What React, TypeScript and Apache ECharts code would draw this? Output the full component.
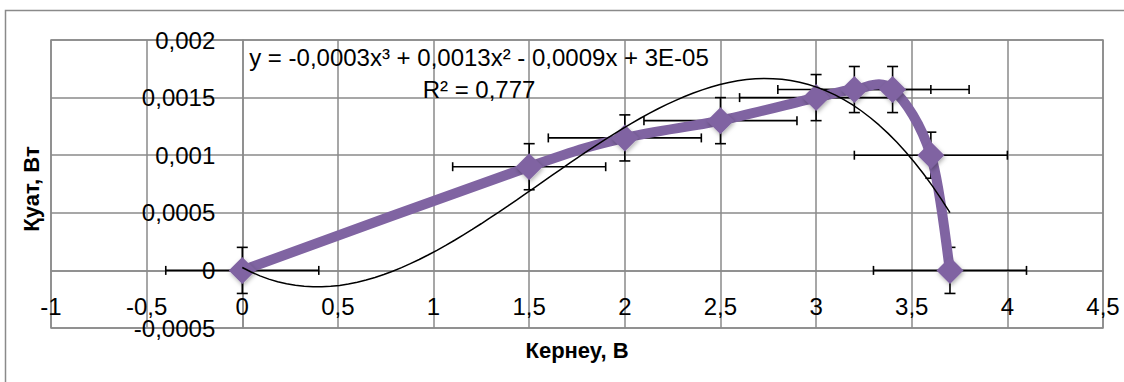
import React, { useEffect, useRef } from "react";
import * as echarts from "echarts";

// Data
const voltage = [0, 1.5, 2, 2.5, 3, 3.2, 3.4, 3.6, 3.7];
const power = [0, 0.0009, 0.00115, 0.0013, 0.0015, 0.00157, 0.00157, 0.001, 0];
const voltageError = [0.4, 0.4, 0.4, 0.4, 0.4, 0.4, 0.4, 0.4, 0.4];
const powerError = [0.0002, 0.0002, 0.0002, 0.0002, 0.0002, 0.0002, 0.0002, 0.0002, 0.0002];

const xRange = [-1, 4.5];
const xStep = 0.5;
const yRange = [-0.0005, 0.002];
const yStep = 0.0005;

const xAxisTitle = "Кернеу, В";
const yAxisTitle = "Қуат, Вт";
const equationText = "y = -0,0003x³ + 0,0013x² - 0,0009x + 3E-05";
const r2Text = "R² = 0,777";

const FONT = "'Liberation Sans', Arial, sans-serif";
const PURPLE = "#8064A2";
const GRID = "#8a8a8a";

const GRID_LEFT = 51;
const GRID_TOP = 40;
const GRID_W = 1052;
const GRID_H = 288;

// Least-squares polynomial fit (as the spreadsheet trendline does)
function polyfit(xs: number[], ys: number[], deg: number): number[] {
  const n = deg + 1;
  const A: number[][] = [];
  for (let j = 0; j < n; j++) {
    const row: number[] = [];
    for (let k = 0; k < n; k++) {
      let s = 0;
      for (let i = 0; i < xs.length; i++) s += Math.pow(xs[i], j + k);
      row.push(s);
    }
    let b = 0;
    for (let i = 0; i < xs.length; i++) b += ys[i] * Math.pow(xs[i], j);
    row.push(b);
    A.push(row);
  }
  for (let c = 0; c < n; c++) {
    let p = c;
    for (let r = c + 1; r < n; r++) if (Math.abs(A[r][c]) > Math.abs(A[p][c])) p = r;
    [A[c], A[p]] = [A[p], A[c]];
    for (let r = 0; r < n; r++) {
      if (r === c) continue;
      const f = A[r][c] / A[c][c];
      for (let k = c; k <= n; k++) A[r][k] -= f * A[c][k];
    }
  }
  return A.map((row, i) => row[n] / row[i]);
}

function fmt(v: number): string {
  return parseFloat(v.toPrecision(10)).toString().replace(".", ",");
}

export default function App() {
  const ref = useRef<HTMLDivElement>(null);
  useEffect(() => {
    if (!ref.current) return;
    const chart = echarts.init(ref.current, null, { renderer: "svg" });
    const coef = polyfit(voltage, power, 3);
    const xmin = Math.min(...voltage);
    const xmax = Math.max(...voltage);
    const steps = 80;
    const trend: number[][] = [];
    for (let i = 0; i <= steps; i++) {
      const x = xmin + ((xmax - xmin) * i) / steps;
      let y = 0;
      for (let k = 0; k < coef.length; k++) y += coef[k] * Math.pow(x, k);
      trend.push([x, y]);
    }
    const points = voltage.map((x, i) => [x, power[i]]);
    const errData = voltage.map((x, i) => [x, power[i], voltageError[i], powerError[i]]);
    const n = points.length;

    // axes cross at zero, with their labels beside them
    const yAxisOffset = -GRID_W * (0 - xRange[0]) / (xRange[1] - xRange[0]);
    const xAxisOffset = -GRID_H * (0 - yRange[0]) / (yRange[1] - yRange[0]);

    const gridLine = { color: GRID, width: 1.5 };

    chart.setOption({
      animation: false,
      backgroundColor: "#ffffff",
      grid: {
        left: GRID_LEFT,
        top: GRID_TOP,
        width: GRID_W,
        height: GRID_H,
        show: true,
        borderColor: GRID,
        borderWidth: 1.5,
        containLabel: false,
        outerBoundsMode: "none",
      },
      xAxis: {
        type: "value",
        min: xRange[0],
        max: xRange[1],
        interval: xStep,
        position: "bottom",
        offset: xAxisOffset,
        axisLine: { show: true, onZero: false, lineStyle: gridLine },
        axisTick: { show: false },
        splitLine: { show: true, lineStyle: gridLine },
        axisLabel: {
          margin: 24,
          fontSize: 24,
          fontFamily: FONT,
          color: "#000",
          formatter: fmt,
          showMinLabel: true,
          showMaxLabel: true,
        },
      },
      yAxis: {
        type: "value",
        min: yRange[0],
        max: yRange[1],
        interval: yStep,
        position: "left",
        offset: yAxisOffset,
        axisLine: { show: true, onZero: false, lineStyle: gridLine },
        axisTick: { show: false },
        splitLine: { show: true, lineStyle: gridLine },
        axisLabel: {
          margin: 27,
          fontSize: 24,
          fontFamily: FONT,
          color: "#000",
          formatter: fmt,
          showMinLabel: true,
          showMaxLabel: true,
        },
      },
      graphic: [
        {
          type: "rect",
          shape: { x: 5.5, y: 10.5, width: 1130, height: 400 },
          style: { fill: "none", stroke: GRID, lineWidth: 1.5 },
          silent: true,
        },
        {
          type: "text",
          x: 479,
          y: 57,
          style: {
            text: equationText,
            fontSize: 24,
            fontFamily: FONT,
            fill: "#000",
            textAlign: "center",
            textVerticalAlign: "middle",
          },
          z: 10,
        },
        {
          type: "text",
          x: 479,
          y: 89,
          style: {
            text: r2Text,
            fontSize: 24,
            fontFamily: FONT,
            fill: "#000",
            textAlign: "center",
            textVerticalAlign: "middle",
          },
          z: 10,
        },
        {
          type: "text",
          x: 577,
          y: 350,
          style: {
            text: xAxisTitle,
            fontSize: 22,
            fontWeight: "bold",
            fontFamily: FONT,
            fill: "#000",
            textAlign: "center",
            textVerticalAlign: "middle",
          },
        },
        {
          type: "text",
          x: 31,
          y: 189,
          rotation: Math.PI / 2,
          style: {
            text: yAxisTitle,
            fontSize: 22,
            fontWeight: "bold",
            fontFamily: FONT,
            fill: "#000",
            textAlign: "center",
            textVerticalAlign: "middle",
          },
        },
      ],
      series: [
        {
          type: "custom",
          z: 1,
          data: errData,
          encode: { x: 0, y: 1 },
          renderItem: (params: any, api: any) => {
            const x = api.value(0);
            const y = api.value(1);
            const xe = api.value(2);
            const ye = api.value(3);
            const l = api.coord([x - xe, y]);
            const r = api.coord([x + xe, y]);
            const t = api.coord([x, y + ye]);
            const b = api.coord([x, y - ye]);
            const st = { stroke: "#000", lineWidth: 1.6 };
            const cx = 5.5;
            const cy = 4.5;
            return {
              type: "group",
              children: [
                { type: "line", shape: { x1: l[0], y1: l[1], x2: r[0], y2: r[1] }, style: st },
                { type: "line", shape: { x1: l[0], y1: l[1] - cy, x2: l[0], y2: l[1] + cy }, style: st },
                { type: "line", shape: { x1: r[0], y1: r[1] - cy, x2: r[0], y2: r[1] + cy }, style: st },
                { type: "line", shape: { x1: t[0], y1: t[1], x2: b[0], y2: b[1] }, style: st },
                { type: "line", shape: { x1: t[0] - cx, y1: t[1], x2: t[0] + cx, y2: t[1] }, style: st },
                { type: "line", shape: { x1: b[0] - cx, y1: b[1], x2: b[0] + cx, y2: b[1] }, style: st },
              ],
            };
          },
        },
        {
          // smoothed connecting line (spreadsheet-style Bezier smoothing)
          type: "custom",
          z: 2,
          data: points,
          encode: { x: 0, y: 1 },
          renderItem: (params: any, api: any) => {
            const i = params.dataIndex;
            if (i >= n - 1) return { type: "group", children: [] };
            const P = (k: number) => {
              const kk = Math.max(0, Math.min(n - 1, k));
              return api.coord(points[kk]);
            };
            const p0 = P(i - 1);
            const p1 = P(i);
            const p2 = P(i + 1);
            const p3 = P(i + 2);
            const c1 = [p1[0] + (p2[0] - p0[0]) / 6, p1[1] + (p2[1] - p0[1]) / 6];
            const c2 = [p2[0] - (p3[0] - p1[0]) / 6, p2[1] - (p3[1] - p1[1]) / 6];
            return {
              type: "bezierCurve",
              shape: {
                x1: p1[0],
                y1: p1[1],
                cpx1: c1[0],
                cpy1: c1[1],
                cpx2: c2[0],
                cpy2: c2[1],
                x2: p2[0],
                y2: p2[1],
              },
              style: { stroke: PURPLE, lineWidth: 10, fill: "none", lineCap: "round" },
            };
          },
        },
        {
          type: "scatter",
          z: 3,
          data: points,
          symbol: "diamond",
          symbolSize: 27,
          itemStyle: {
            color: PURPLE,
            opacity: 1,
            shadowBlur: 4,
            shadowColor: "rgba(0,0,0,0.3)",
            shadowOffsetX: 1,
            shadowOffsetY: 2,
          },
        },
        {
          type: "line",
          z: 4,
          data: trend,
          showSymbol: false,
          symbol: "none",
          lineStyle: { color: "#000", width: 1.5 },
        },
      ],
    });
    return () => chart.dispose();
  }, []);
  return (
    <div
      ref={ref}
      style={{ position: "absolute", left: 0, top: 0, width: 1124, height: 382 }}
    />
  );
}
